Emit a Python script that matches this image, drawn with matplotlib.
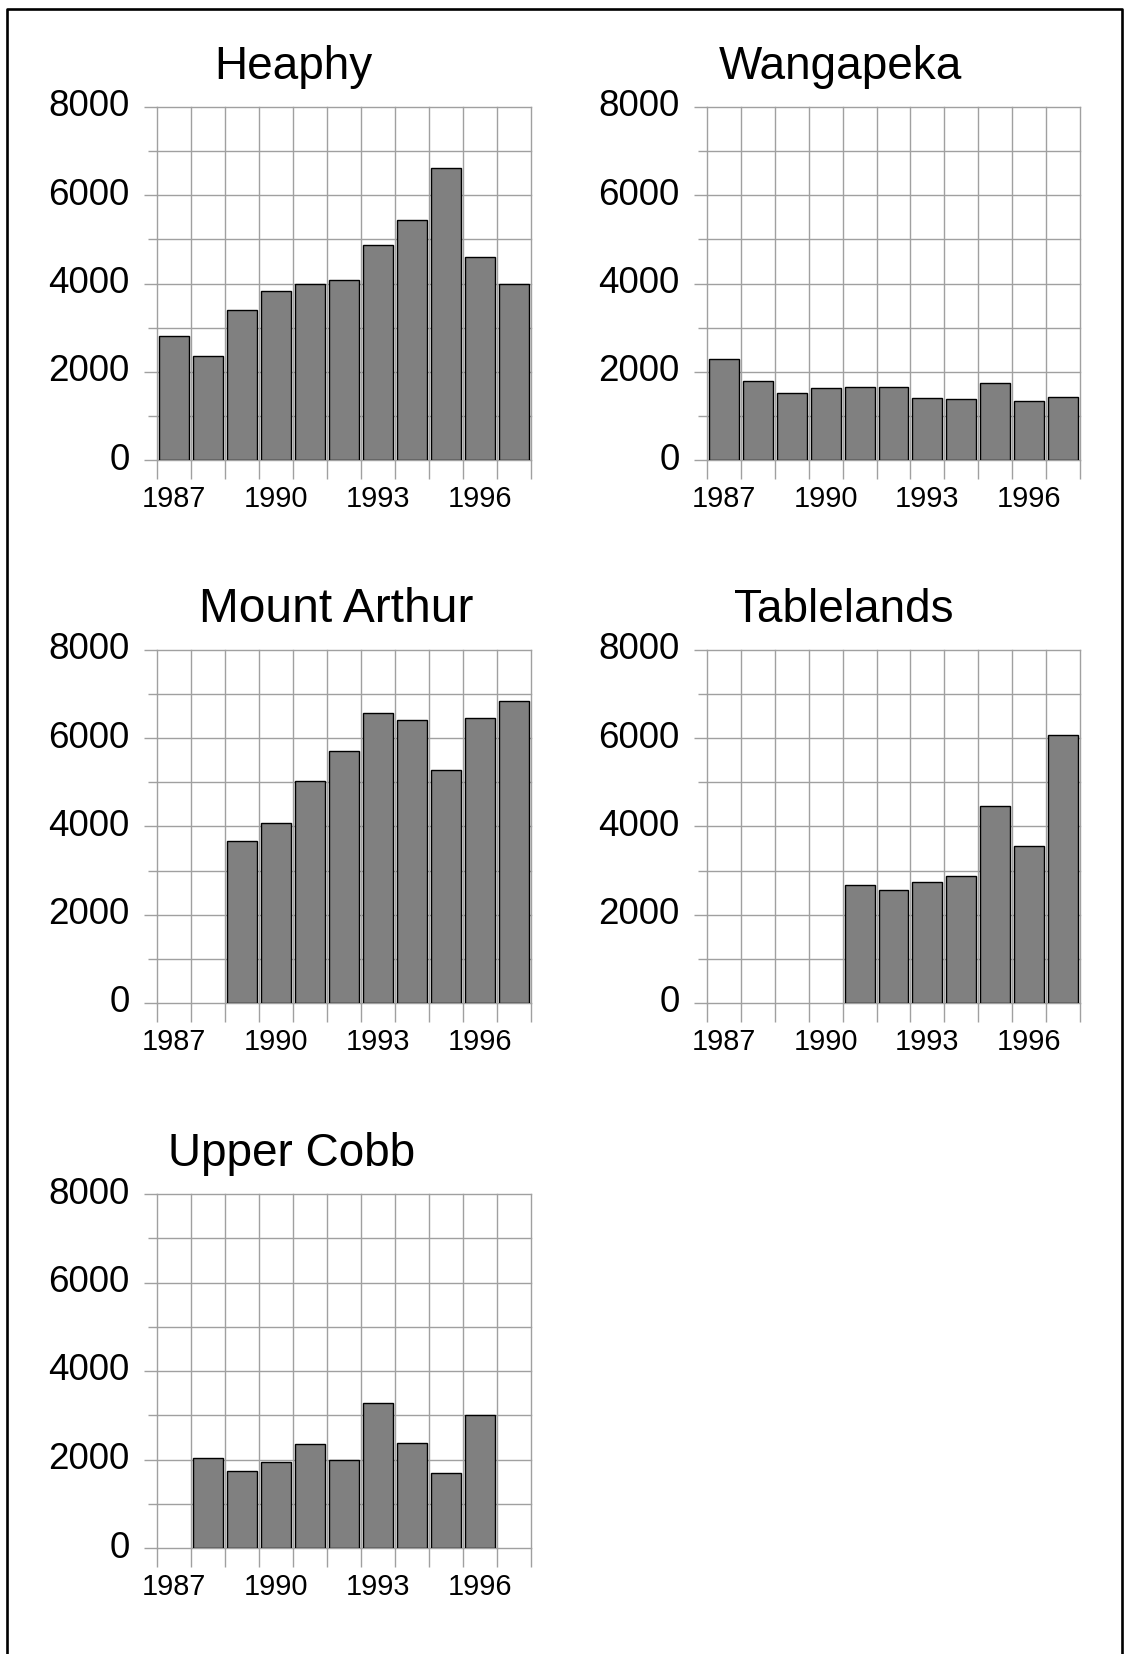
import numpy as np
import matplotlib
matplotlib.use('Agg')
import matplotlib.pyplot as plt
from matplotlib.lines import Line2D

plt.rcParams['font.family'] = ['Liberation Sans', 'DejaVu Sans']

# annual visitor counts per track, None = no count that year
years = list(range(1987, 1998))
heaphy = [2820, 2350, 3400, 3830, 3990, 4080, 4880, 5440, 6610, 4600, 4000]
wangapeka = [2280, 1790, 1510, 1630, 1650, 1650, 1400, 1380, 1740, 1330, 1420]
mount_arthur = [None, None, 3680, 4080, 5030, 5700, 6570, 6410, 5280, 6450, 6850]
tablelands = [None, None, None, None, 2670, 2560, 2750, 2880, 4460, 3560, 6070]
upper_cobb = [None, 2030, 1730, 1940, 2350, 1980, 3270, 2380, 1690, 3010, None]

names = ['Heaphy', 'Wangapeka', 'Mount Arthur', 'Tablelands', 'Upper Cobb']
series = [heaphy, wangapeka, mount_arthur, tablelands, upper_cobb]
year_labels = [1987, 1990, 1993, 1996]
y_ticks = [0, 2000, 4000, 6000, 8000]

W, H = 1127, 1654
fig = plt.figure(figsize=(W / 100, H / 100), dpi=100)

# panel boxes in pixels: left, top, right, bottom
boxes = [(157, 107, 531, 460), (707, 107, 1080, 460),
         (157, 650, 531, 1003), (707, 650, 1080, 1003),
         (157, 1194, 531, 1548)]
title_x = [0.364, 0.358, 0.479, 0.367, 0.36]
title_size = [33, 33, 34.5, 33, 33]

grid_col = '#a0a0a0'

for i, (name, vals) in enumerate(zip(names, series)):
    l, t, r, b = boxes[i]
    ax = fig.add_axes([l / W, 1 - b / H, (r - l) / W, (b - t) / H])

    xs = [y for y, v in zip(years, vals) if v is not None]
    hs = [v for v in vals if v is not None]
    ax.bar(xs, hs, width=0.88, color='#808080', edgecolor='black', linewidth=1.0, zorder=3)

    ax.set_xlim(1986.5, 1997.5)
    ax.set_ylim(0, 8000)
    ax.set_yticks(y_ticks)
    ax.set_yticks(range(1000, 8000, 2000), minor=True)
    ax.set_xticks(year_labels)
    ax.set_xticks(np.arange(1986.5, 1998, 1), minor=True)

    ax.grid(which='both', axis='y', color=grid_col, linewidth=1.0, clip_on=False)
    ax.grid(which='minor', axis='x', color=grid_col, linewidth=1.0, clip_on=False)
    ax.set_axisbelow(True)

    for s in ax.spines.values():
        s.set_visible(False)

    ax.tick_params(axis='x', which='major', length=0, pad=18, labelsize=20.8)
    ax.tick_params(axis='x', which='minor', length=13.7, width=1.0, color=grid_col)
    ax.tick_params(axis='y', which='major', length=9.7, width=1.0, color=grid_col,
                   pad=10, labelsize=26.5)
    ax.tick_params(axis='y', which='minor', length=6.5, width=1.0, color=grid_col)
    for lab in ax.get_yticklabels():
        lab.set_verticalalignment('center')

    ax.set_title(name, x=title_x[i], pad=20.5, fontsize=title_size[i])

# page frame, open at the bottom
fig.add_artist(Line2D([7 / W, 7 / W, 1122 / W, 1122 / W],
                      [0, 1 - 9.3 / H, 1 - 9.3 / H, 0],
                      color='black', linewidth=1.9, transform=fig.transFigure))

fig.savefig('out.png', dpi=100)
